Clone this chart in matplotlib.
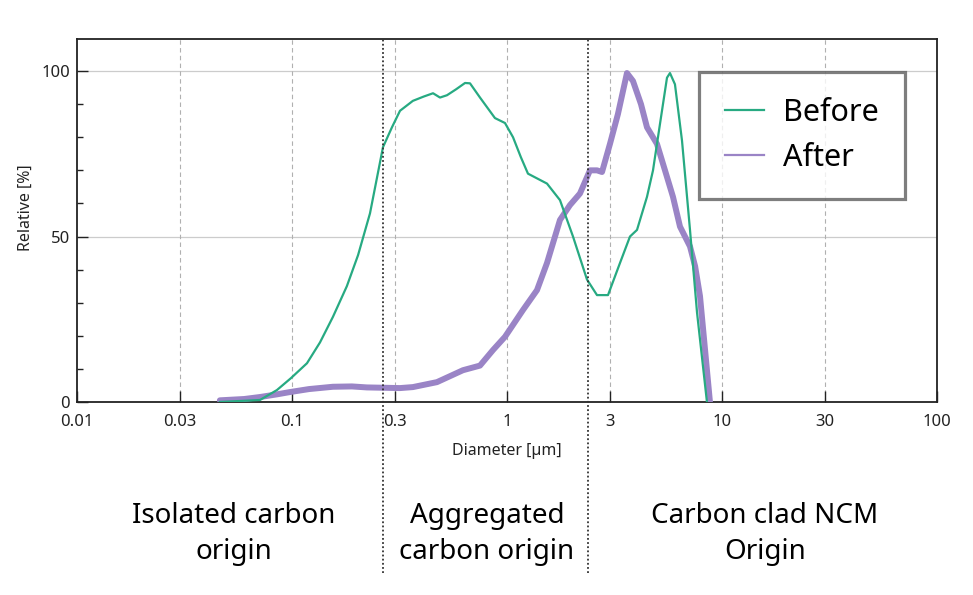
import matplotlib
matplotlib.use('Agg')
import matplotlib.pyplot as plt
from matplotlib.lines import Line2D
from matplotlib.ticker import MultipleLocator, NullLocator

plt.rcParams['font.family'] = ['Noto Sans', 'DejaVu Sans']

# particle size distribution
beforeD = [0.0462, 0.0710, 0.0851, 0.0989, 0.1174, 0.135, 0.155, 0.18, 0.203, 0.2306, 0.265, 0.2917,
           0.318, 0.365, 0.41, 0.453, 0.488, 0.526, 0.58, 0.638, 0.673, 0.749, 0.879, 0.979,
           1.067, 1.16, 1.252, 1.535, 1.764, 2.028, 2.356, 2.622, 2.950, 3.354, 3.733,
           4.025, 4.479, 4.777, 5.147, 5.549, 5.729, 6.043, 6.516, 7.099, 7.655, 8.511]
beforeRel = [0.0, 0.6, 3.6, 7.2, 11.7, 18.0, 25.7, 35.0, 44.4, 57.0, 77.0, 83.0,
             88.0, 91.0, 92.3, 93.3, 92.0, 92.7, 94.5, 96.4, 96.3, 92.0, 85.8, 84.3,
             80.0, 74.0, 69.0, 66.0, 61.0, 50.0, 37.0, 32.3, 32.3, 42.0, 50.0,
             52.0, 62.0, 70.0, 84.0, 98.0, 99.4, 96.0, 79.0, 52.0, 27.0, 0.0]

afterD = [0.0462, 0.06, 0.0710, 0.085, 0.0979, 0.12, 0.155, 0.19, 0.223, 0.318, 0.365, 0.4725,
          0.624, 0.749, 0.861, 0.979, 1.187, 1.379, 1.535, 1.764, 1.963, 2.185, 2.432, 2.622,
          2.767, 3.013, 3.281, 3.614, 3.855, 4.2, 4.479, 4.984, 5.549, 5.916, 6.378,
          7.099, 7.5, 7.901, 8.79]
afterRel = [0.5, 0.9, 1.5, 2.3, 3.0, 3.9, 4.6, 4.7, 4.4, 4.2, 4.5, 6.0,
            9.6, 11.0, 15.7, 19.7, 27.8, 33.8, 42.0, 55.0, 59.5, 63.0, 70.0, 70.0,
            69.5, 78.0, 87.0, 99.4, 97.0, 90.0, 83.0, 78.0, 68.0, 62.0, 53.0,
            47.0, 41.0, 32.0, 0.0]

xTicks = [0.01, 0.03, 0.1, 0.3, 1, 3, 10, 30, 100]
xTickLabels = ['0.01', '0.03', '0.1', '0.3', '1', '3', '10', '30', '100']
regionBounds = [0.265, 2.38]
regionLabels = ['Isolated carbon\norigin', 'Aggregated\ncarbon origin', 'Carbon clad NCM\nOrigin']
regionCenters = [0.2405, 0.5005, 0.786]

colBefore = '#27aa82'
colAfter = '#9a84c6'

fig = plt.figure(figsize=(9.73, 5.95), dpi=100)
ax = fig.add_axes([0.0791, 0.3244, 0.8839, 0.6101])

ax.plot(afterD, afterRel, color=colAfter, lw=4.3, solid_capstyle='round', solid_joinstyle='round', zorder=3)
ax.plot(beforeD, beforeRel, color=colBefore, lw=1.6, zorder=4)

ax.set_xscale('log')
ax.set_xlim(0.01, 100)
ax.set_ylim(0, 109.7)
ax.set_xticks(xTicks)
ax.set_xticklabels(xTickLabels)
ax.xaxis.set_minor_locator(NullLocator())
ax.set_yticks([0, 50, 100])
ax.yaxis.set_minor_locator(MultipleLocator(10))
ax.tick_params(which='both', direction='in', colors='#222222', labelsize=12, width=1)
ax.tick_params(which='major', length=8)
ax.tick_params(which='minor', length=4.3)
ax.tick_params(axis='x', pad=9)
ax.tick_params(axis='y', pad=5)

for s in ax.spines.values():
	s.set_color('#222222')
	s.set_linewidth(1.3)

# grid
for v in [50, 100]:
	ax.axhline(v, color='#cccccc', lw=0.9, zorder=1)
for t in xTicks[1:-1]:
	ax.axvline(t, color='#b0b0b0', lw=0.8, ls=(0, (4, 3)), zorder=1)

# region separators, running down past the axes
for b in regionBounds:
	ax.axvline(b, ymin=-0.471, ymax=1, color='#333333', lw=1.3, ls=(0, (1, 1.3)),
			   clip_on=False, zorder=5)

ax.set_xlabel('Diameter [\u00b5m]', fontsize=11.5, labelpad=9, color='#222222')
ax.set_ylabel('Relative [%]', fontsize=11.5, color='#222222')
ax.yaxis.set_label_coords(-0.05, 0.534)

handles = [Line2D([], [], color=colBefore, lw=1.6), Line2D([], [], color=colAfter, lw=1.6)]
leg = ax.legend(handles, ['Before', 'After'], loc='upper left', bbox_to_anchor=(0.723, 0.909),
				fontsize=22, frameon=True, fancybox=False, borderpad=0.85, labelspacing=0.48,
				handlelength=1.3, handletextpad=0.6, borderaxespad=0)
leg.get_frame().set_edgecolor('#5e5e5e')
leg.get_frame().set_linewidth(2.3)
leg.set_zorder(6)

for txt, cx in zip(regionLabels, regionCenters):
	fig.text(cx, 0.102, txt, ha='center', va='center', fontsize=20, linespacing=1.38)

fig.savefig('out.png', dpi=100)
